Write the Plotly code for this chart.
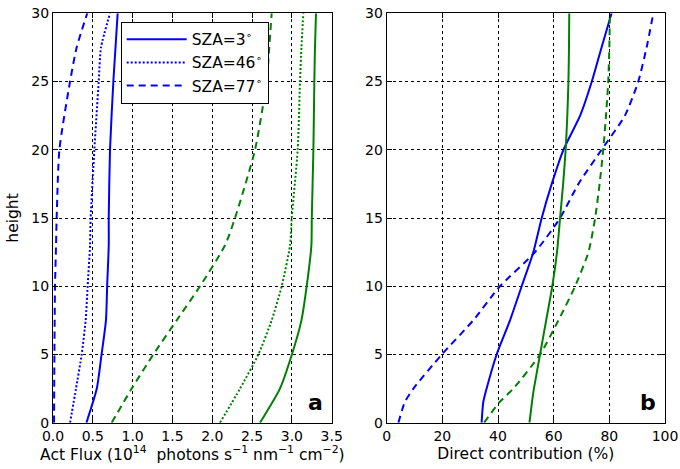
import plotly.graph_objects as go

# ---- data: panel a (actinic flux, 1e14 photons s-1 nm-1 cm-2) ----
h_a = [0, 2.5, 5, 7.5, 10, 13, 15, 20, 25, 27.5, 30]
blue_sza3_a = [0.42, 0.55, 0.61, 0.665, 0.68, 0.70, 0.70, 0.716, 0.758, 0.785, 0.812]
blue_sza46_a = [0.214, 0.289, 0.36, 0.41, 0.435, 0.465, 0.473, 0.519, 0.574, 0.603, 0.716]
blue_sza77_a = [0.013, 0.015, 0.018, 0.021, 0.025, 0.038, 0.046, 0.08, 0.214, 0.297, 0.43]
green_sza3_a = [2.60, 2.85, 3.00, 3.12, 3.186, 3.245, 3.25, 3.27, 3.282, 3.29, 3.303]
green_sza46_a = [2.097, 2.349, 2.579, 2.746, 2.872, 2.977, 2.998, 3.073, 3.102, 3.12, 3.144]
green_sza77_a = [0.737, 0.988, 1.26, 1.553, 1.846, 2.16, 2.286, 2.537, 2.683, 2.716, 2.746]

# ---- data: panel b (direct contribution, %) ----
h_b = [0, 1.5, 2.5, 5, 7.5, 10, 12.5, 15, 17.5, 20, 22.5, 25, 27.5, 30]
blue_sza3_b = [34.1, 34.7, 35.9, 39.5, 44.3, 48.5, 52.7, 55.7, 59.3, 63.5, 69.5, 73.7, 77.2, 80.8]
blue_sza77_b = [4.2, 6.5, 9.6, 19.8, 31.1, 40.7, 53.3, 62.3, 68.9, 77.2, 85.6, 90.4, 93.4, 95.8]
green_sza3_b = [51.3, 52.2, 52.9, 55.1, 57.3, 59.5, 61.2, 62.3, 63.4, 64.3, 64.9, 65.3, 65.5, 65.6]
green_sza77_b = [35.0, 40.5, 45.5, 55.1, 61.7, 67.7, 72.5, 74.9, 76.5, 77.8, 78.8, 79.6, 80.0, 80.2]

legend_names = ["SZA=3<sup>∘</sup>", "SZA=46<sup>∘</sup>", "SZA=77<sup>∘</sup>"]
xticks_a = [0, 0.5, 1, 1.5, 2, 2.5, 3, 3.5]
xticks_b = [0, 20, 40, 60, 80, 100]
yticks = [0, 5, 10, 15, 20, 25, 30]

BLUE = "#0000ff"
GREEN = "#008000"
DASH = "7px,5px"
DOT = "2px,2px"

fig = go.Figure()

def add(x, y, color, dash, xa, ya, name=None, show=False):
    fig.add_trace(go.Scatter(
        x=x, y=y, mode="lines", name=name, showlegend=show,
        line=dict(color=color, width=2, dash=dash, shape="spline", smoothing=0.6),
        xaxis=xa, yaxis=ya))

add(blue_sza3_a, h_a, BLUE, "solid", "x", "y", legend_names[0], True)
add(blue_sza46_a, h_a, BLUE, DOT, "x", "y", legend_names[1], True)
add(blue_sza77_a, h_a, BLUE, DASH, "x", "y", legend_names[2], True)
add(green_sza3_a, h_a, GREEN, "solid", "x", "y")
add(green_sza46_a, h_a, GREEN, DOT, "x", "y")
add(green_sza77_a, h_a, GREEN, DASH, "x", "y")

add(blue_sza3_b, h_b, BLUE, "solid", "x2", "y2")
add(blue_sza77_b, h_b, BLUE, DASH, "x2", "y2")
add(green_sza3_b, h_b, GREEN, "solid", "x2", "y2")
add(green_sza77_b, h_b, GREEN, DASH, "x2", "y2")

W, H = 680, 469


def fx(px):
    return px / W


def fy(py):
    return 1 - py / H


axfont = dict(family="DejaVu Sans", size=14, color="black")
common = dict(showline=True, linecolor="black", linewidth=1, mirror="ticks",
              ticks="inside", ticklen=5, tickcolor="black",
              showgrid=True, gridcolor="black", gridwidth=1, griddash="dot",
              zeroline=False, tickfont=axfont, automargin=False,
              ticklabeloverflow="allow")
TSZ = 15.5

fig.update_layout(
    width=W, height=H,
    margin=dict(l=0, r=0, t=0, b=0),
    paper_bgcolor="white", plot_bgcolor="white",
    font=dict(family="DejaVu Sans", color="black"),
    xaxis=dict(domain=[fx(53), fx(331.7)], range=[0, 3.5], tickvals=xticks_a,
               ticktext=[f"{v:.1f}" for v in xticks_a],
               title=dict(text="Act Flux (10<sup>14</sup>  photons s<sup>−1</sup> nm<sup>−1</sup> cm<sup>−2</sup>)",
                          font=dict(size=TSZ), standoff=5),
               anchor="y", **common),
    yaxis=dict(domain=[fy(422.7), fy(13.3)], range=[0, 30], tickvals=yticks,
               title=dict(text="height", font=dict(size=TSZ), standoff=8),
               anchor="x", **common),
    xaxis2=dict(domain=[fx(386.7), fx(665)], range=[0, 100], tickvals=xticks_b,
                title=dict(text="Direct contribution (%)", font=dict(size=TSZ), standoff=5),
                anchor="y2", **common),
    yaxis2=dict(domain=[fy(422.7), fy(13.3)], range=[0, 30], tickvals=yticks,
                anchor="x2", **common),
    legend=dict(x=fx(120.7), y=fy(21.7), xanchor="left", yanchor="top",
                bordercolor="black", borderwidth=1, bgcolor="white",
                itemwidth=60,
                font=dict(family="DejaVu Sans", size=TSZ), tracegroupgap=0),
    annotations=[
        dict(text="<b>a</b>", xref="x domain", yref="y domain", x=0.975, y=0.013,
             xanchor="right", yanchor="bottom", showarrow=False,
             font=dict(size=22, family="DejaVu Sans")),
        dict(text="<b>b</b>", xref="x2 domain", yref="y2 domain", x=0.975, y=0.013,
             xanchor="right", yanchor="bottom", showarrow=False,
             font=dict(size=22, family="DejaVu Sans")),
    ],
)

# remove the default page margin so the figure sits at the window's top-left corner
fig.write_html("out.html", config={"displayModeBar": False},
               post_script="document.body.style.margin='0px';")
